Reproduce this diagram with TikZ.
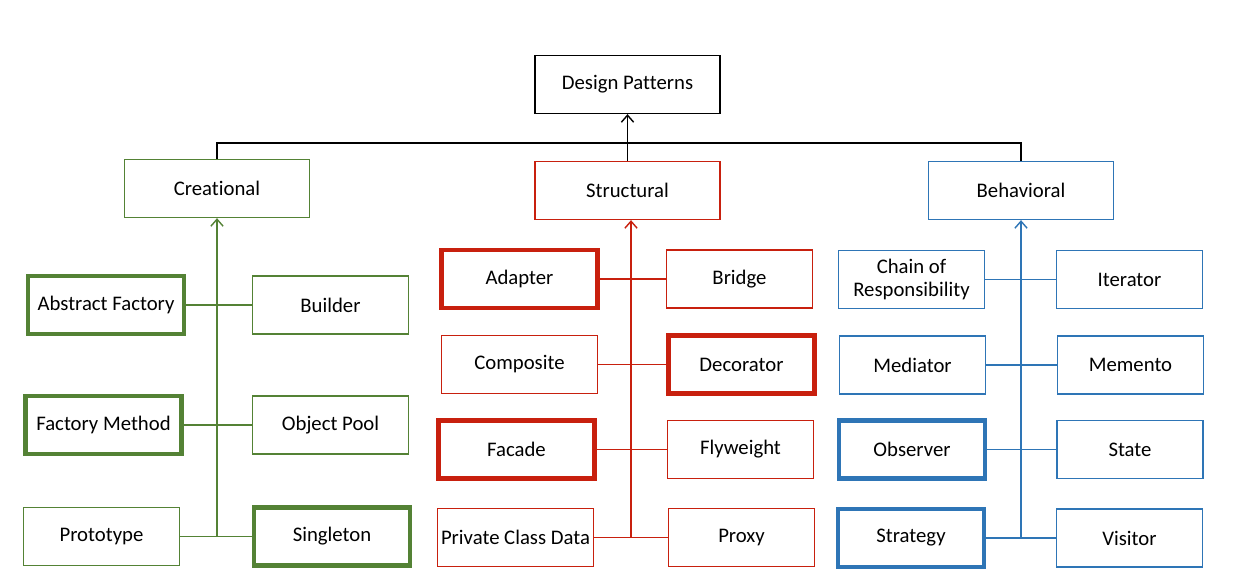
\documentclass[tikz,border=0pt]{standalone}
\usepackage{fontspec}
\setmainfont{Carlito}[Ligatures={NoCommon}]
\usetikzlibrary{arrows.meta}
\definecolor{cgreen}{RGB}{84,130,53}
\definecolor{cred}{RGB}{200,32,14}
\definecolor{cblue}{RGB}{46,117,182}
\begin{document}
\begin{tikzpicture}[x=0.02cm,y=-0.02cm,
  >={Straight Barb[length=4pt,width=7pt]},
  box/.style={draw, minimum height=1.16cm, inner sep=1pt, align=center, font=\fontsize{11.8}{13.5}\selectfont, line width=0.75pt},
  catbox/.style={box, minimum width=3.7cm},
  wide/.style={box, minimum width=3.12cm},
  narrow/.style={box, minimum width=2.92cm},
  key/.style={line width=2.8pt},
  link/.style={line width=0.8pt}]
\useasboundingbox (0,0) rectangle (1243,577);

\node[catbox] (design) at (627.5,84.5) {Design Patterns};
\node[catbox, draw=cgreen] (creational) at (217,188.5) {Creational};
\node[catbox, draw=cred] (structural) at (627.5,190.5) {Structural};
\node[catbox, draw=cblue] (behavioral) at (1021,190.5) {Behavioral};

% creational
\node[wide, draw=cgreen, key] (absfac) at (106,305) {Abstract Factory};
\node[wide, draw=cgreen] (builder) at (330.5,305) {Builder};
\node[wide, draw=cgreen, key] (facmeth) at (103.5,425) {Factory Method};
\node[wide, draw=cgreen] (objpool) at (330.5,425) {Object Pool};
\node[wide, draw=cgreen] (prototype) at (101.5,536.5) {Prototype};
\node[wide, draw=cgreen, key] (singleton) at (332,536.5) {Singleton};

% structural
\node[wide, draw=cred, key] (adapter) at (519.5,279) {Adapter};
\node[narrow, draw=cred] (bridge) at (739.5,279) {Bridge};
\node[wide, draw=cred] (composite) at (519.5,364.5) {Composite};
\node[narrow, draw=cred, key] (decorator) at (741.5,364.5) {Decorator};
\node[wide, draw=cred, key] (facade) at (516.5,449.5) {Facade};
\node[narrow, draw=cred] (flyweight) at (740.5,449.5) {Flyweight};
\node[wide, draw=cred] (pcd) at (515.5,537.5) {Private Class Data};
\node[narrow, draw=cred] (proxy) at (741.5,537.5) {Proxy};

% behavioral
\node[narrow, draw=cblue] (chain) at (911.5,279.5) {Chain of\\Responsibility};
\node[narrow, draw=cblue] (iterator) at (1129.5,279.5) {Iterator};
\node[narrow, draw=cblue] (mediator) at (912.5,365) {Mediator};
\node[narrow, draw=cblue] (memento) at (1130.5,365) {Memento};
\node[narrow, draw=cblue, key] (observer) at (912,449.5) {Observer};
\node[narrow, draw=cblue] (state) at (1130,449.5) {State};
\node[narrow, draw=cblue, key] (strategy) at (911,538) {Strategy};
\node[narrow, draw=cblue] (visitor) at (1129.5,538) {Visitor};

\coordinate (bar) at (627.5,143);
\coordinate (gbot) at (217,537);
\coordinate (rbot) at (631,538);
\coordinate (bbot) at (1021,538);

\path[draw,link] (creational.north) -- (creational.north |- bar) -- (behavioral.north |- bar) -- (behavioral.north);
\path[draw,link,->] (structural.north) -- (design.south);

\path[draw,link,cgreen,->] (gbot) -- (gbot |- creational.south);
\path[draw,link,cgreen] (absfac.east) -- (builder.west);
\path[draw,link,cgreen] (facmeth.east) -- (objpool.west);
\path[draw,link,cgreen] (prototype.east) -- (singleton.west);

\path[draw,link,cred,->] (rbot) -- (rbot |- structural.south);
\path[draw,link,cred] (adapter.east) -- (bridge.west);
\path[draw,link,cred] (composite.east) -- (decorator.west);
\path[draw,link,cred] (facade.east) -- (flyweight.west);
\path[draw,link,cred] (pcd.east) -- (proxy.west);

\path[draw,link,cblue,->] (bbot) -- (bbot |- behavioral.south);
\path[draw,link,cblue] (chain.east) -- (iterator.west);
\path[draw,link,cblue] (mediator.east) -- (memento.west);
\path[draw,link,cblue] (observer.east) -- (state.west);
\path[draw,link,cblue] (strategy.east) -- (visitor.west);
\end{tikzpicture}
\end{document}
